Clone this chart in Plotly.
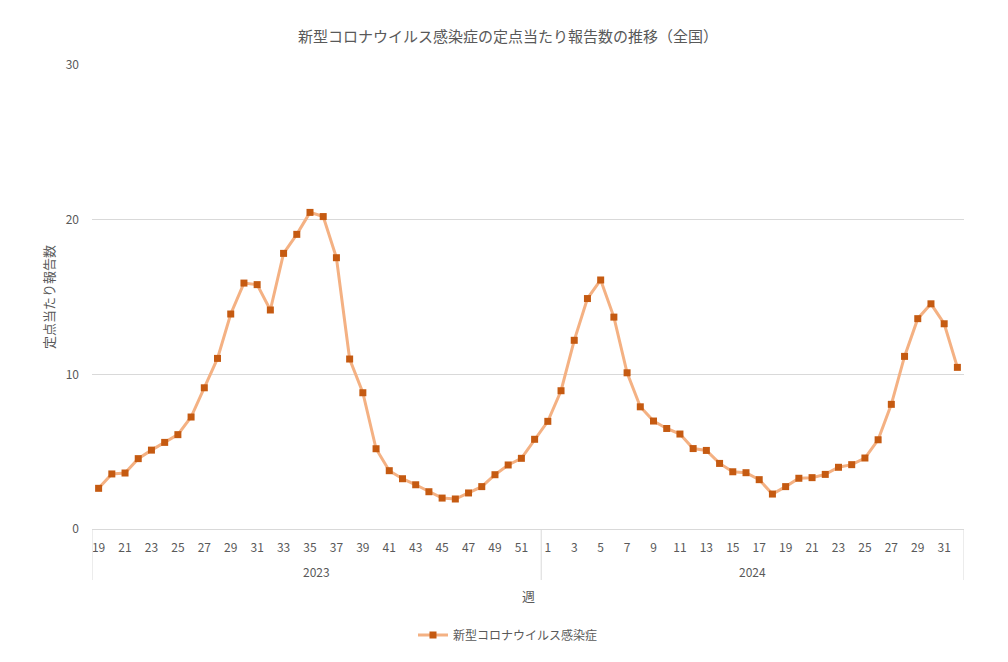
import plotly.graph_objects as go

# ---- data ----
weeks_2023 = list(range(19, 53))
weeks_2024 = list(range(1, 33))
values_2023 = [2.63, 3.56, 3.62, 4.55, 5.1, 5.6, 6.1, 7.24, 9.13, 11.03, 13.9, 15.9, 15.8, 14.16,
               17.82, 19.05, 20.47, 20.2, 17.54, 10.99, 8.81, 5.19, 3.77, 3.25, 2.86, 2.41, 2.0,
               1.94, 2.33, 2.74, 3.51, 4.14, 4.57, 5.8]
values_2024 = [6.96, 8.94, 12.2, 14.9, 16.1, 13.7, 10.1, 7.9, 6.98, 6.5, 6.14, 5.2, 5.08, 4.24,
               3.7, 3.64, 3.19, 2.26, 2.74, 3.28, 3.32, 3.53, 3.99, 4.16, 4.59, 5.77, 8.06, 11.16,
               13.6, 14.56, 13.27, 10.45]
years = ["2023", "2024"]
series_name = "新型コロナウイルス感染症"
title_text = "新型コロナウイルス感染症の定点当たり報告数の推移（全国）"
y_title = "定点当たり報告数"
x_title = "週"
y_ticks = [0, 10, 20, 30]

weeks = weeks_2023 + weeks_2024
values = values_2023 + values_2024
idx = list(range(len(weeks)))

tickvals = [i for i, w in zip(idx, weeks) if w % 2 == 1]
ticktext = [str(weeks[i]) for i in tickvals]

font_family = "Noto Sans CJK JP, Noto Sans, sans-serif"
gray = "#595959"
grid = "#d9d9d9"

W, H = 1000, 654  # page body has an 8px margin

fig = go.Figure()
fig.add_trace(go.Scatter(
    x=idx, y=values, mode="lines+markers", name=series_name,
    line=dict(color="#f4b183", width=3),
    marker=dict(symbol="square", size=7, color="#c55a11"),
))

n1 = len(weeks_2023)
n = len(weeks)
bounds = [-0.5, n1 - 0.5, n - 0.5]
for b in bounds:
    fig.add_shape(type="line", xref="x", yref="paper", x0=b, x1=b, y0=0, y1=-0.11,
                  line=dict(color=grid, width=1))
centers = [(bounds[0] + bounds[1]) / 2, (bounds[1] + bounds[2]) / 2]
for yr, c in zip(years, centers):
    fig.add_annotation(x=c, xref="x", y=0, yref="paper", yshift=-53, text=yr,
                       showarrow=False, font=dict(size=12, color=gray, family=font_family))

fig.add_annotation(x=0.5, xref="paper", y=0, yref="paper", yshift=-78, text=x_title,
                   showarrow=False, font=dict(size=13, color=gray, family=font_family))

fig.update_layout(
    width=W, height=H,
    margin=dict(l=84, r=44, t=57, b=133),
    paper_bgcolor="white", plot_bgcolor="white",
    font=dict(family=font_family, color=gray, size=12),
    title=dict(text=title_text, x=0.5, xref="container", xanchor="center",
               y=1 - 29 / H, yref="container", yanchor="middle",
               font=dict(size=15, color=gray, family=font_family)),
    showlegend=True,
    legend=dict(orientation="h", x=0.5, xref="container", xanchor="center",
                y=1 - 627 / H, yref="container", yanchor="middle",
                font=dict(size=12, color=gray, family=font_family)),
    xaxis=dict(range=[-0.5, n - 0.5], tickmode="array", tickvals=tickvals, ticktext=ticktext,
               showgrid=False, zeroline=False, showline=True, linecolor=grid, linewidth=1,
               ticks="", tickangle=0, ticklabelstandoff=8, automargin=False,
               tickfont=dict(size=12, color=gray)),
    yaxis=dict(range=[0, 30], tickmode="array", tickvals=y_ticks, showgrid=True,
               gridcolor=grid, gridwidth=1, zeroline=False, showline=False, ticks="",
               ticklabelstandoff=12, tickfont=dict(size=12, color=gray), automargin=False,
               title=dict(text=y_title, standoff=8, font=dict(size=13, color=gray))),
)

fig.write_html("out.html")
